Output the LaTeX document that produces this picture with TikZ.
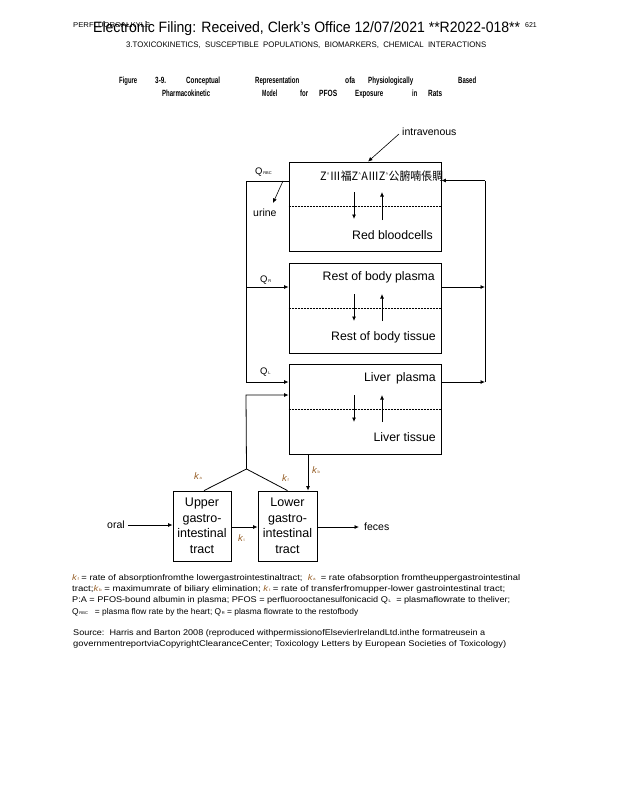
\documentclass[tikz,border=0pt]{standalone}
\usepackage{fontspec}
\usepackage{graphicx}
\setmainfont{Liberation Sans}
\newfontfamily\cjkf{Noto Sans CJK SC}
\usetikzlibrary{arrows.meta,calc}
\newcommand\fitw[2]{\resizebox{#1}{\height}{#2}}
\newcommand\kk[1]{{\itshape k}{\fontsize{4}{4}\selectfont\,#1}}
\newcommand\qq[1]{Q{\fontsize{4}{4}\selectfont\,#1}}
\definecolor{kcol}{RGB}{150,95,40}
\tikzset{
 box/.style={draw, line width=0.8pt, minimum width=152pt, minimum height=90pt, inner sep=0pt},
 gi/.style={draw, line width=0.8pt, minimum width=58pt, minimum height=70pt, inner sep=0pt, align=center, font=\fontsize{12.5}{15.5}\selectfont},
 conn/.style={line width=0.8pt, -{Latex[length=4.5pt,width=4pt]}},
 plain/.style={line width=0.8pt},
 dots/.style={line width=0.7pt, dash pattern=on 2pt off 1pt},
 lbl/.style={font=\fontsize{12.3}{14}\selectfont, inner sep=0pt},
 sml/.style={font=\fontsize{10.5}{12}\selectfont, inner sep=0pt},
 ql/.style={font=\fontsize{9.5}{10}\selectfont, inner sep=0pt, anchor=west},
 kl/.style={font=\fontsize{9.5}{10}\selectfont, inner sep=0pt, anchor=west, text=kcol},
 tt/.style={font=\bfseries\fontsize{9}{9}\selectfont, inner sep=0pt, anchor=base west},
 fn/.style={font=\fontsize{8.3}{9}\selectfont, inner sep=0pt, anchor=base west},
}
\begin{document}
\begin{tikzpicture}[x=1pt,y=-1pt]
\useasboundingbox (0,0) rectangle (618,800);
% header
\node[fn, font=\fontsize{7}{7}\selectfont] (hd0) at (73,28) {\fitw{77pt}{PERFLUOROALKYLS}};
\node[fn, font=\fontsize{15}{15}\selectfont] (hd1) at (93,33) {\fitw{427pt}{Electronic Filing: Received, Clerk's Office 12/07/2021 **R2022-018**}};
\node[fn, font=\fontsize{7}{7}\selectfont] (hd2) at (525,28) {621};
\node[fn, font=\fontsize{8}{8}\selectfont] (hd3) at (126,47.5) {\fitw{360pt}{3.TOXICOKINETICS,\ \ SUSCEPTIBLE\ \ POPULATIONS,\ \ BIOMARKERS,\ \ CHEMICAL\ \ INTERACTIONS}};
% title
\node[tt] (t1) at (119,83) {\fitw{18pt}{Figure}};
\node[tt] (t2) at (155,83) {\fitw{11pt}{3-9.}};
\node[tt] (t3) at (186,83) {\fitw{34pt}{Conceptual}};
\node[tt] (t4) at (255,83) {\fitw{44pt}{Representation}};
\node[tt] (t5) at (345,83) {\fitw{10pt}{ofa}};
\node[tt] (t6) at (368,83) {\fitw{45pt}{Physiologically}};
\node[tt] (t7) at (458,83) {\fitw{18pt}{Based}};
\node[tt] (t8) at (162,96) {\fitw{48pt}{Pharmacokinetic}};
\node[tt] (t9) at (262,96) {\fitw{15pt}{Model}};
\node[tt] (t10) at (300,96) {\fitw{8pt}{for}};
\node[tt] (t11) at (319,96) {\fitw{18pt}{PFOS}};
\node[tt] (t12) at (355,96) {\fitw{28pt}{Exposure}};
\node[tt] (t13) at (412,96) {\fitw{5pt}{in}};
\node[tt] (t14) at (428,96) {\fitw{14pt}{Rats}};
% boxes
\node[box, minimum height=89pt] (rbc) at (365,206.5) {};
\node[box] (rest) at (365,308) {};
\node[box] (liver) at (365,409) {};
\draw[dots] (rbc.west) -- (rbc.east);
\draw[dots] (rest.west) -- (rest.east);
\draw[dots] (liver.west) -- (liver.east);
% box texts
\node[inner sep=0pt, anchor=west, font=\cjkf\fontsize{11.5}{12}\selectfont] (garb) at (320,176) {\fitw{123pt}{Z\textsuperscript{\tiny\^{}}Ⅲ福Z\textsuperscript{\tiny\^{}}AⅢZ\textsuperscript{\tiny\^{}}公腑喃倀賙}};
\node[lbl, anchor=mid east] (rbct) at (433,237) {Red bloodcells};
\node[lbl, anchor=mid east] (restp) at (435,278) {Rest of body plasma};
\node[lbl, anchor=mid east] (restt) at (436,338) {Rest of body tissue};
\node[lbl, anchor=mid east] (livp) at (436,379) {Liver\, plasma};
\node[lbl, anchor=mid east] (livt) at (436,439) {Liver tissue};
% exchange arrows
\coordinate (a1t) at (354,192); \coordinate (a1b) at (354,219);
\coordinate (a2t) at (382,192); \coordinate (a2b) at (382,220);
\draw[conn] (a1t) -- (a1b); \draw[conn] (a2b) -- (a2t);
\coordinate (b1t) at (354,294); \coordinate (b1b) at (354,321);
\coordinate (b2t) at (382,294); \coordinate (b2b) at (382,321);
\draw[conn] (b1t) -- (b1b); \draw[conn] (b2b) -- (b2t);
\coordinate (c1t) at (354,395); \coordinate (c1b) at (354,422);
\coordinate (c2t) at (382,395); \coordinate (c2b) at (382,422);
\draw[conn] (c1t) -- (c1b); \draw[conn] (c2b) -- (c2t);
% intravenous
\node[sml, anchor=west] (iv) at (402,132) {intravenous};
\coordinate (ivtip) at ($(rbc.north)+(3,0)$);
\draw[conn, line width=0.6pt] ($(iv.west)+(-3,2)$) -- (ivtip);
% left circulation
\coordinate (lrbc) at (289,181);
\coordinate (L1) at (246,181);
\coordinate (LR) at (246,287);
\coordinate (LL) at (246,382);
\draw[plain] (lrbc) -- (L1) -- (LL);
\draw[conn] (LR) -- (LR -| rest.west);
\draw[conn] (LL) -- (LL -| liver.west);
\node[ql] (qrbc) at (255,172) {\qq{RBC}};
\node[ql] (qr) at (260,280) {\qq{R}};
\node[ql] (qlv) at (260,372) {\qq{L}};
% urine
\node[sml, anchor=west] (urine) at (253,213) {urine};
\coordinate (u0) at (283,181);
\coordinate (u1) at (273,203);
\draw[conn, line width=0.6pt] (u0) -- (u1);
% right circulation
\coordinate (RR) at (485,287);
\coordinate (RL) at (485,382);
\coordinate (RT) at (485,180.5);
\draw[conn] (RR -| rest.east) -- (RR);
\draw[conn] (RL -| liver.east) -- (RL);
\draw[plain] (RL) -- (RT);
\draw[conn] (RT) -- (RT -| rbc.east);
% GI boxes
\node[gi] (ugi) at (202,526) {Upper\\gastro-\\intestinal\\tract};
\node[gi, minimum width=59pt] (lgi) at (287.5,526) {Lower\\gastro-\\intestinal\\tract};
% absorption to liver
\coordinate (J) at (246.5,469);
\coordinate (LV2) at (246,395);
\draw[plain] (ugi.north -| 204,0) -- (J) -- (lgi.north);
\draw[conn] (J) -- (LV2) -- (LV2 -| liver.west);
% biliary
\coordinate (bil) at (308,454);
\draw[conn] (bil) -- (bil |- lgi.north);
% oral, transfer, feces
\node[sml, anchor=west] (oral) at (107,525) {oral};
\draw[conn] ($(oral.east)+(3,0)$) -- (oral.east -| ugi.west);
\coordinate (tr) at (231,527);
\draw[conn] (tr) -- (tr -| lgi.west);
\node[sml, anchor=west] (feces) at (364,527) {feces};
\draw[conn] (lgi.east |- feces) -- ($(feces.west)+(-5,0)$);
% k labels
\node[kl] (ka) at (194,476) {\kk{a}};
\node[kl] (kf) at (282,478) {\kk{f}};
\node[kl] (kb) at (312,470) {\kk{b}};
\node[kl] (kt) at (238,538) {\kk{t}};
% footnote
\node[fn] (f1) at (72,580.5) {\fitw{448pt}{{\color{kcol}\kk{f}} = rate of absorptionfromthe lowergastrointestinaltract;\ \ {\color{kcol}\kk{a}}\ \ = rate ofabsorption fromtheuppergastrointestinal}};
\node[fn] (f2) at (72,591.5) {\fitw{433pt}{tract;{\color{kcol}\kk{b}} = maximumrate of biliary elimination; {\color{kcol}\kk{t}} = rate of transferfromupper-lower gastrointestinal tract;}};
\node[fn] (f3) at (72,602.5) {\fitw{438pt}{P:A = PFOS-bound albumin in plasma; PFOS = perfluorooctanesulfonicacid \qq{L}\ \ = plasmaflowrate to theliver;}};
\node[fn] (f4) at (72,614) {\fitw{286pt}{\qq{RBC}\ \ \ = plasma flow rate by the heart; \qq{R}\ = plasma flowrate to the restofbody}};
\node[fn] (s1) at (73,635) {\fitw{412pt}{Source:\ \ Harris and Barton 2008 (reproduced withpermissionofElsevierIrelandLtd.inthe formatreusein a}};
\node[fn] (s2) at (73,646.5) {\fitw{433pt}{governmentreportviaCopyrightClearanceCenter; Toxicology Letters by European Societies of Toxicology)}};
\end{tikzpicture}
\end{document}
